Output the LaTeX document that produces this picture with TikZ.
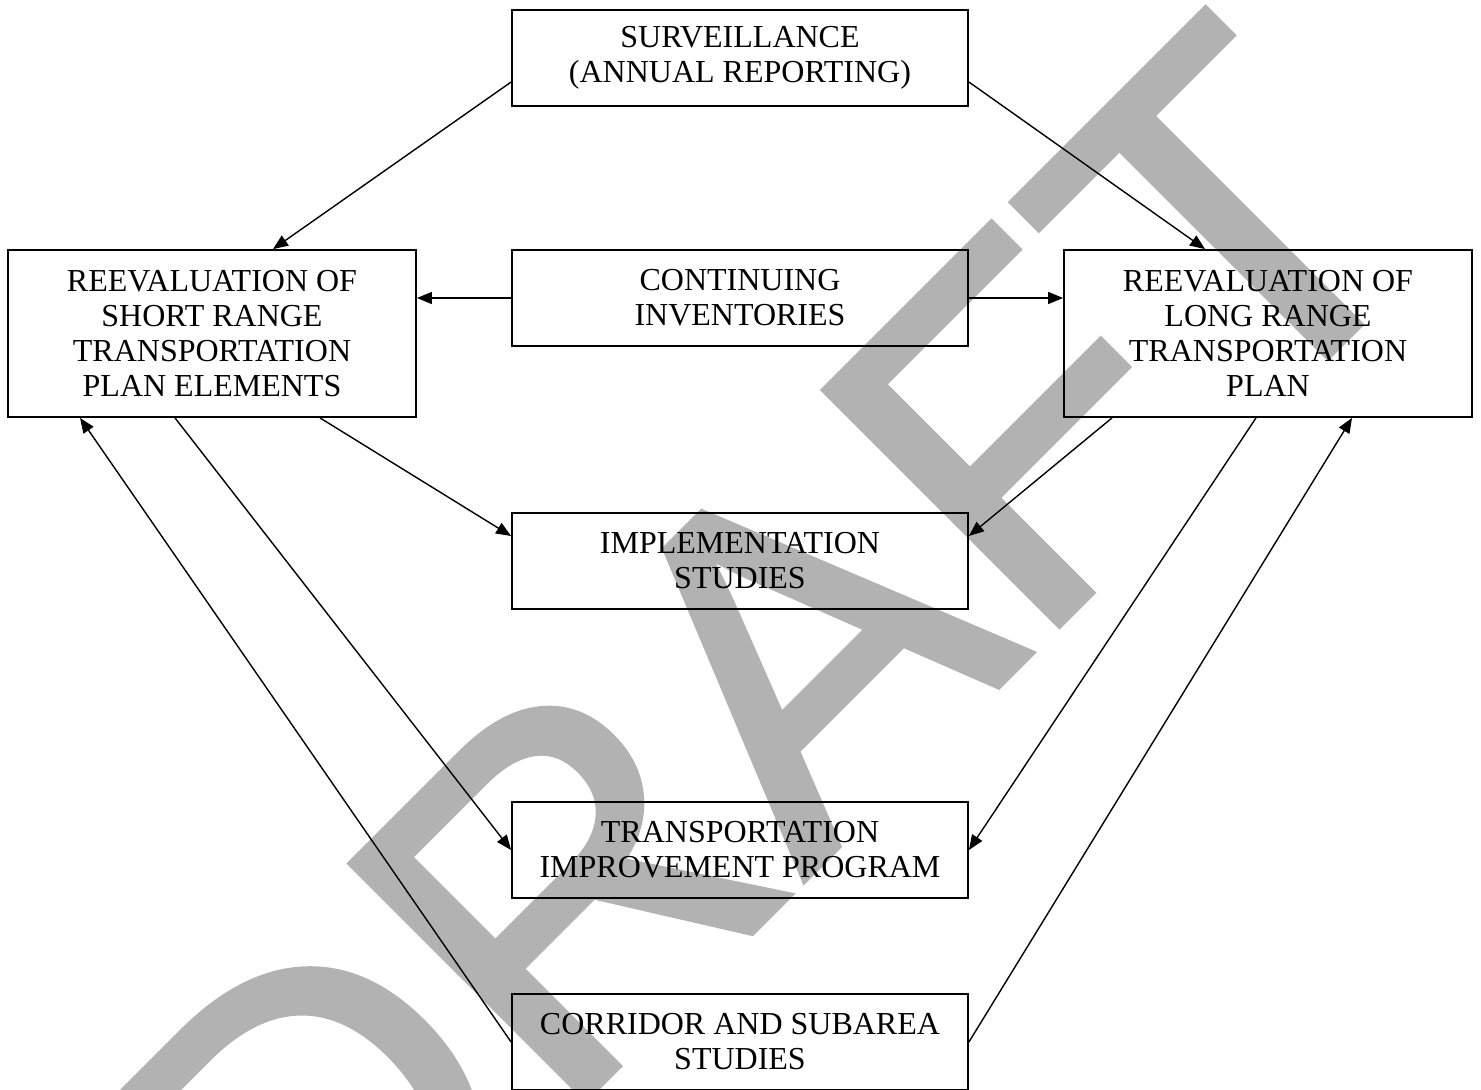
\documentclass[tikz,border=0pt]{standalone}
\usepackage{fontspec}
\setmainfont{Liberation Serif}
\newfontfamily\wmfont[FakeBold=1.5]{Liberation Sans}
\usetikzlibrary{arrows.meta,calc,positioning}
\tikzset{
	blk/.style={rectangle, draw, line width=0.9pt, inner sep=0pt, align=center, font=\fontsize{16}{17.5}\selectfont},
	wide/.style={blk, minimum width=228pt, minimum height=48pt},
	tall/.style={blk, minimum width=204pt, minimum height=83.5pt},
	conn/.style={line width=0.7pt, -{Triangle[length=7.5pt,width=6pt]}}
}
\begin{document}
\begin{tikzpicture}[x=0.5pt,y=-0.5pt]
\useasboundingbox(0,0)rectangle(1481,1089);
\node[rotate=45, anchor=base, text=black!30, inner sep=0pt, font=\wmfont\fontsize{241}{241}\selectfont](wm)at(880,804){DRAFT};
\node[wide](surv)at(740,58){SURVEILLANCE\\(ANNUAL REPORTING)};
\node[tall](short)at(212,333.5){REEVALUATION OF\\SHORT RANGE\\TRANSPORTATION\\PLAN ELEMENTS};
\node[wide](inv)at(740,298){CONTINUING\\INVENTORIES};
\node[tall](long)at(1268,333.5){REEVALUATION OF\\LONG RANGE\\TRANSPORTATION\\PLAN};
\node[wide](impl)at(740,561){IMPLEMENTATION\\STUDIES};
\node[wide](tip)at(740,850){TRANSPORTATION\\IMPROVEMENT PROGRAM};
\node[wide](corr)at(740,1042){CORRIDOR AND SUBAREA\\STUDIES};
\draw[conn]([yshift=-12pt]surv.west)to([xshift=30.5pt]short.north);
\draw[conn]([yshift=-12pt]surv.east)to([xshift=-31.5pt]long.north);
\draw[conn](inv.west)to(inv.west-|short.east);
\draw[conn](inv.east)to(inv.east-|long.west);
\draw[conn]([xshift=54pt]short.south)to([yshift=12.5pt]impl.west);
\draw[conn]([xshift=-78pt]long.south)to([yshift=12.5pt]impl.east);
\draw[conn]([xshift=-18.5pt]short.south)to(tip.west);
\draw[conn]([xshift=-6pt]long.south)to(tip.east);
\draw[conn](corr.west)to([xshift=-66pt]short.south);
\draw[conn](corr.east)to([xshift=42pt]long.south);
\end{tikzpicture}
\end{document}
